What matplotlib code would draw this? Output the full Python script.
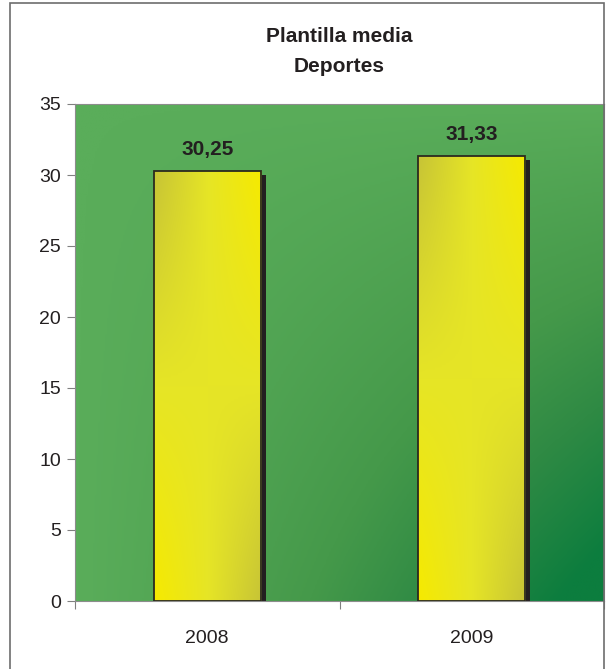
import numpy as np
import matplotlib.pyplot as plt
from matplotlib.colors import LinearSegmentedColormap
from matplotlib.patches import Rectangle

# Data
years = ["2008", "2009"]
values = [30.25, 31.33]
labels = ["30,25", "31,33"]

plt.rcParams['font.family'] = ['Liberation Sans', 'DejaVu Sans']

fig = plt.figure(figsize=(6.06, 6.69), dpi=100)
ax = fig.add_axes([75 / 606, 68 / 669, 529 / 606, 497 / 669])

# green background gradient (light on top and left, dark bottom-right)
bg_cmap = LinearSegmentedColormap.from_list(
    "bg", [(0, "#5aad5a"), (0.45, "#45994a"), (0.7, "#2f8a44"), (1, "#0c7d3e")])
gx, gy = np.meshgrid(np.linspace(0, 1, 300), np.linspace(1, 0, 300))
grad = np.clip(gx ** 1.1 * (1 - gy) ** 0.9 * 1.1, 0, 1)
ax.imshow(grad, extent=[0, 2, 0, 35], aspect='auto', cmap=bg_cmap, zorder=0,
          interpolation='bilinear')

# bars with bilinear yellow gradient and drop shadow
bar_cmap = LinearSegmentedColormap.from_list("bar", ["#c7c436", "#e6e526", "#f6ea00"])
width = 0.405
u, v = np.meshgrid(np.linspace(0, 1, 100), np.linspace(1, 0, 200))
bar_grad = u * v + (1 - u) * (1 - v)
for i, val in enumerate(values):
    x0 = i + 0.5 - width / 2
    ax.add_patch(Rectangle((x0 + 0.019, 0), width, val - 0.28, facecolor="#231f20",
                           edgecolor="none", zorder=2))
    ax.imshow(bar_grad, extent=[x0, x0 + width, 0, val], aspect='auto', cmap=bar_cmap,
              zorder=3, interpolation='bilinear')
    ax.add_patch(Rectangle((x0, 0), width, val, facecolor="none",
                           edgecolor="#2b2a1f", linewidth=1.3, zorder=4))
    ax.text(i + 0.5, val + 0.85, labels[i], ha='center', va='bottom', fontsize=15,
            fontweight='bold', color="#231f20", zorder=5)

ax.set_xlim(0, 2)
ax.set_ylim(0, 35)

for s in ax.spines.values():
    s.set_color("#8c8c8c")

ax.set_yticks(range(0, 36, 5))
ax.set_xticks([0, 1, 2])
ax.set_xticklabels([])
ax.set_xticks([0.5, 1.5], minor=True)
ax.set_xticklabels(years, minor=True)
ax.tick_params(axis='x', which='minor', length=0, pad=21, labelsize=14, labelcolor="#231f20")
ax.tick_params(axis='x', which='major', length=6, color="#808080")
ax.tick_params(axis='y', length=6, color="#808080", labelsize=14, labelcolor="#231f20", pad=4)

fig.text(339 / 606, 1 - 37 / 669, "Plantilla media", ha='center', va='center',
         fontsize=15, fontweight='bold', color="#231f20")
fig.text(339 / 606, 1 - 66 / 669, "Deportes", ha='center', va='center',
         fontsize=15, fontweight='bold', color="#231f20")

# outer frame
fig.patches.append(Rectangle((10 / 606, -0.05), 594 / 606, 1.05 - 3 / 669,
                             transform=fig.transFigure, facecolor="none",
                             edgecolor="#6d6d6d", linewidth=1.2))

fig.savefig("out.png", dpi=100)
